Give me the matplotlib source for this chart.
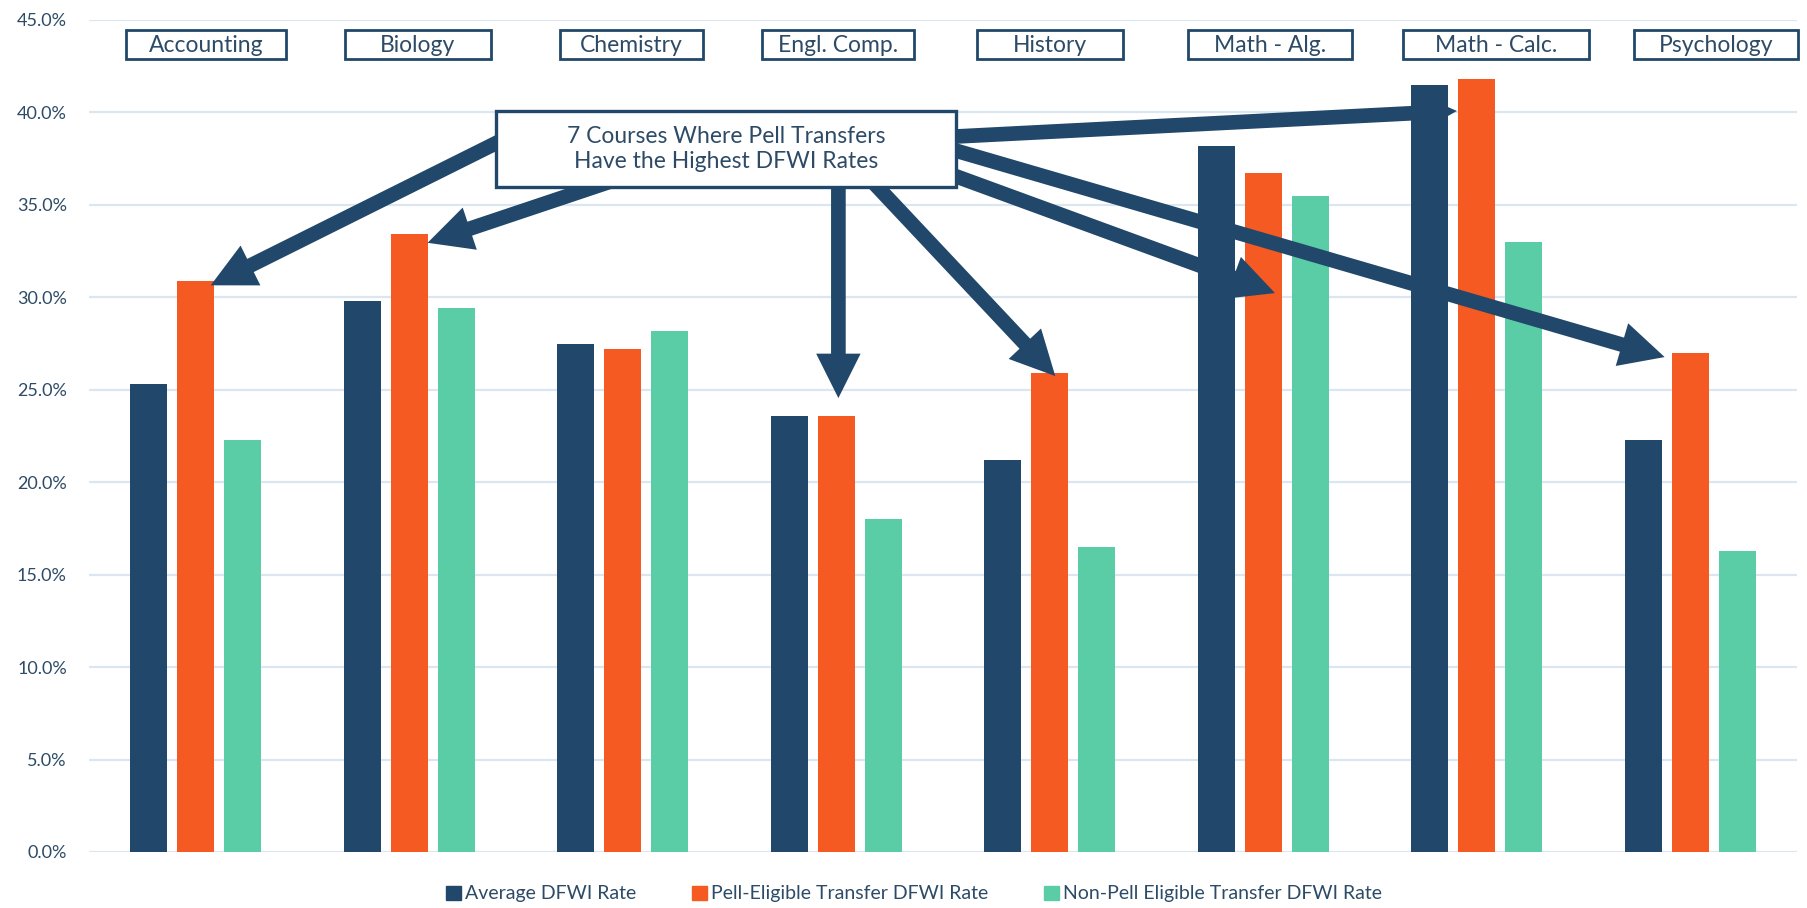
import numpy as np
import matplotlib.pyplot as plt
from matplotlib.patches import FancyArrowPatch, Rectangle, Patch
from matplotlib.ticker import FuncFormatter

plt.rcParams['font.family'] = ['Lato', 'DejaVu Sans']

# DFWI rates per course (%)
courses = ["Accounting", "Biology", "Chemistry", "Engl. Comp.", "History",
           "Math - Alg.", "Math - Calc.", "Psychology"]
avg_rate = [25.3, 29.8, 27.5, 23.6, 21.2, 38.2, 41.5, 22.3]
pell_rate = [30.9, 33.4, 27.2, 23.6, 25.9, 36.7, 41.8, 27.0]
non_pell_rate = [22.3, 29.4, 28.2, 18.0, 16.5, 35.5, 33.0, 16.3]
series_names = ["Average DFWI Rate", "Pell-Eligible Transfer DFWI Rate",
                "Non-Pell Eligible Transfer DFWI Rate"]
y_ticks = np.arange(0, 46, 5)
callout = "7 Courses Where Pell Transfers\nHave the Highest DFWI Rates"

navy = "#21476a"
orange = "#f55a22"
teal = "#5acca6"
text_col = "#2d4b67"
grid_col = "#dce6f0"

fig = plt.figure(figsize=(18.08, 9.08), dpi=100)
ax = fig.add_axes([89 / 1808, 56 / 908, 1708 / 1808, 832 / 908])

x = np.arange(len(courses))
w = 0.172
step = 0.22
ax.bar(x - step, avg_rate, w, color=navy, zorder=2)
ax.bar(x, pell_rate, w, color=orange, zorder=2)
ax.bar(x + step, non_pell_rate, w, color=teal, zorder=2)

ax.set_xlim(-0.5, 7.5)
ax.set_ylim(0, 45)
ax.set_yticks(y_ticks)
ax.yaxis.set_major_formatter(FuncFormatter(lambda v, p: f"{v:.1f}%"))
ax.tick_params(axis='y', length=0, pad=16, labelsize=13, labelcolor=text_col)
ax.set_xticks([])
ax.grid(axis='y', color=grid_col, lw=1.6, zorder=0)
for s in ax.spines.values():
    s.set_visible(False)

# course name boxes along the top
box_shift = [0.05, 0.04, 0.04, 0.01, 0.0, 0.03, 0.09, 0.12]
box_w = [0.75, 0.686, 0.67, 0.713, 0.686, 0.767, 0.875, 0.767]
for i, name in enumerate(courses):
    cx = i + box_shift[i]
    ax.add_patch(Rectangle((cx - box_w[i] / 2, 42.89), box_w[i], 1.57,
                           facecolor="white", edgecolor=navy, lw=2.0,
                           zorder=6, clip_on=False))
    ax.text(cx, 43.62, name, ha="center", va="center", fontsize=16.5,
            color=text_col, zorder=7)

# arrows from the callout to the pell bars: (course, tail x, tail y, dx, dy)
arrows = [
    ("Accounting", 1.566, 39.26, 0.07, -0.25),
    ("Biology", 2.081, 36.8, 0.086, -0.45),
    ("Engl. Comp.", 3.01, 37.0, 0.01, 0.95),
    ("History", 3.097, 37.15, 0.026, -0.16),
    ("Math - Alg.", 3.392, 37.26, 0.055, -6.47),
    ("Math - Calc.", 3.392, 38.6, -0.093, -1.72),
    ("Psychology", 3.392, 38.5, -0.12, -0.23),
]
for name, tx, ty, dx, dy in arrows:
    i = courses.index(name)
    arr = FancyArrowPatch((tx, ty), (i + dx, pell_rate[i] + dy),
                          arrowstyle="simple,head_length=1.0,head_width=1.0,tail_width=0.33",
                          mutation_scale=32, color=navy, lw=0,
                          shrinkA=0, shrinkB=0, zorder=4)
    ax.add_patch(arr)

ax.add_patch(Rectangle((1.406, 35.97), 2.155, 4.11, facecolor="white",
                       edgecolor=navy, lw=2.4, zorder=5))
ax.text(2.483, 38.02, callout, ha="center", va="center", fontsize=16.5,
        color=text_col, linespacing=1.2, zorder=6)

handles = [Patch(color=c) for c in (navy, orange, teal)]
fig.legend(handles, series_names, loc="center", bbox_to_anchor=(914 / 1808, 1 - 894 / 908),
           ncol=3, frameon=False, fontsize=14, labelcolor=text_col,
           handlelength=0.75, handleheight=0.75, handletextpad=0.2, columnspacing=2.9)

fig.savefig("out.png", dpi=100)
